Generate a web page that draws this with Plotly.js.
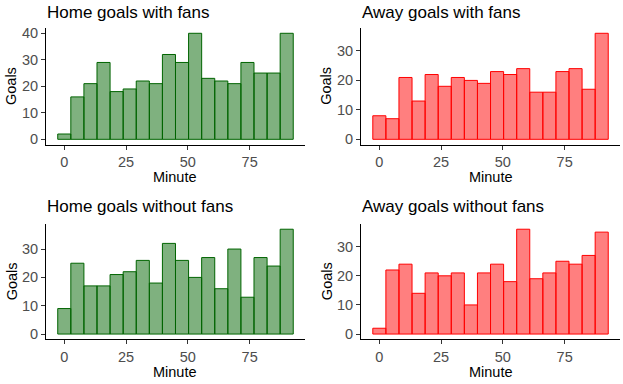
<!DOCTYPE html>
<html><head><meta charset="utf-8">
<script src="https://cdn.plot.ly/plotly-3.0.1.min.js"></script>
<style>html,body{margin:0;padding:0;background:#fff}#c{width:623px;height:384px}</style>
</head><body><div id="c"></div>
<script>
const binCenters = [0, 5.294, 10.588, 15.882, 21.176, 26.471, 31.765, 37.059, 42.353, 47.647, 52.941, 58.235, 63.529, 68.824, 74.118, 79.412, 84.706, 90];
const binWidth = 5.294;
const homeWithFans = [2,16,21,29,18,19,22,21,32,29,40,23,22,21,29,25,25,40];
const awayWithFans = [8,7,21,13,22,18,21,20,19,23,22,24,16,16,23,24,17,36];
const homeWithoutFans = [9,25,17,17,21,22,26,18,32,26,20,27,16,30,13,27,24,37];
const awayWithoutFans = [2,22,24,14,21,20,21,10,21,24,18,36,19,21,25,24,27,35];
const panelTitles = ["Home goals with fans","Away goals with fans","Home goals without fans","Away goals without fans"];
const xTicks = [0,25,50,75];

const green = {fill:'rgba(0,100,0,0.5)', line:'#006400'};
const red = {fill:'rgba(255,0,0,0.5)', line:'#ff0000'};
const series = [[homeWithFans,green],[awayWithFans,red],[homeWithoutFans,green],[awayWithoutFans,red]];

const xd = [[0.0738,0.4896],[0.5795,0.9952]];
const yd = [[0.6234,0.9271],[0.1164,0.4167]];
const yr = [[-2,42],[-1.8,37.8],[-1.85,38.85],[-1.8,37.8]];

const traces = [];
const layout = {
  width:623, height:384, margin:{l:0,r:0,t:0,b:0},
  paper_bgcolor:'#fff', plot_bgcolor:'#fff', showlegend:false,
  font:{family:'Liberation Sans, Arial, sans-serif', size:14, color:'#4d4d4d'},
  bargap:0, annotations:[]
};
series.forEach((s,i)=>{
  const n = i+1;
  const sfx = n===1?'':String(n);
  traces.push({type:'bar', x:binCenters, y:s[0], width:binWidth,
    xaxis:'x'+sfx, yaxis:'y'+sfx,
    marker:{color:s[1].fill, line:{color:s[1].line, width:1}}, hoverinfo:'x+y'});
  const col = i%2, row = Math.floor(i/2);
  const axStyle = {showline:true, linecolor:'#000', linewidth:1, ticks:'outside', ticklen:4, tickcolor:'#333',
    showgrid:false, zeroline:false, tickfont:{size:14.5, color:'#4d4d4d'}, fixedrange:true};
  layout['xaxis'+sfx] = Object.assign({}, axStyle, {domain:xd[col], range:[-7.41,97.41], tickvals:xTicks,
    anchor:'y'+sfx});
  layout['yaxis'+sfx] = Object.assign({}, axStyle, {domain:yd[row], range:yr[i], dtick:10, tick0:0,
    anchor:'x'+sfx});
  const titleY = row===0 ? 1-12.5/384 : 1-206/384;
  layout.annotations.push({text:panelTitles[i], xref:'paper', yref:'paper', x:xd[col][0]-0.002, y:titleY,
    xanchor:'left', yanchor:'middle', showarrow:false, font:{size:17, color:'#000'}});
  const axisBottomPx = (1-yd[row][0])*384;
  layout.annotations.push({text:'Minute', xref:'paper', yref:'paper', x:(xd[col][0]+xd[col][1])/2,
    y:1-(axisBottomPx+32.5)/384, xanchor:'center', yanchor:'middle', showarrow:false, font:{size:14.5, color:'#000'}});
  const goalsX = col===0 ? 11.7 : 326.5;
  layout.annotations.push({text:'Goals', xref:'paper', yref:'paper', x:goalsX/623, y:(yd[row][0]+yd[row][1])/2,
    xanchor:'center', yanchor:'middle', textangle:-90, showarrow:false, font:{size:14.5, color:'#000'}});
});
Plotly.newPlot('c', traces, layout, {staticPlot:true});
</script></body></html>
